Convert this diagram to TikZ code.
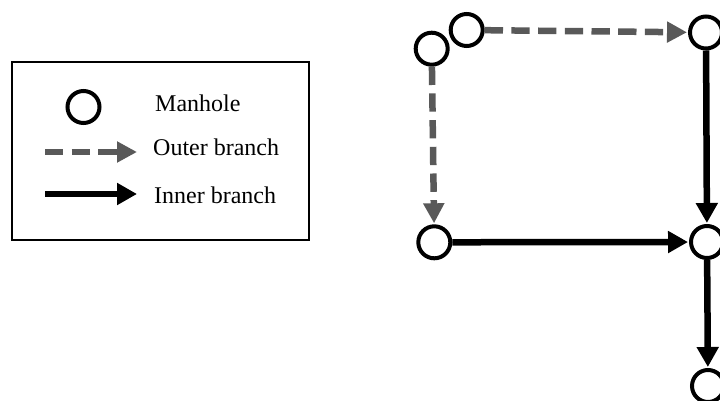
\documentclass[tikz,border=0pt]{standalone}
\usepackage{fontspec}
\setmainfont{Liberation Serif}
\usetikzlibrary{arrows.meta,positioning}
\definecolor{outergray}{HTML}{595959}

\begin{document}
\begin{tikzpicture}[x=1pt, y=-1pt,
    manhole/.style={circle, draw, line width=4pt, minimum size=32pt, inner sep=0pt, fill=white},
    outer/.style={draw=outergray, line width=6.5pt, dash pattern=on 18.3pt off 8.4pt,
                  -{Triangle[length=20pt, width=20pt]}, shorten >=1pt},
    inner/.style={draw=black, line width=6.5pt, -{Triangle[length=20pt, width=21pt]}, shorten >=1pt},
    legtext/.style={font=\fontsize{24}{28}\selectfont, anchor=base west, inner sep=0pt}
  ]
  \useasboundingbox (0,0) rectangle (720,401);

  % legend
  \node (legend) [draw, line width=1.8pt, minimum width=297pt, minimum height=178pt, inner sep=0pt] at (160.5,151) {};
  \node (keyhole) [manhole] at (83.5,107) {};
  \node (keyholetext) [legtext] at (155,112) {Manhole};
  \coordinate (outerstart) at (45,152);
  \coordinate (outerend) at (137,152);
  \node (outertext) [legtext] at (153,155) {Outer branch};
  \coordinate (innerstart) at (45,194);
  \coordinate (innerend) at (137,194);
  \node (innertext) [legtext] at (154,203) {Inner branch};
  \draw[outer, shorten >=0pt] (outerstart) -- (outerend);
  \draw[inner, shorten >=0pt] (innerstart) -- (innerend);

  % network
  \node (mhA) [manhole] at (431.7,48.7) {};
  \node (mhB) [manhole] at (466.7,30) {};
  \node (mhC) [manhole] at (706,32.5) {};
  \node (mhD) [manhole] at (434.3,242.3) {};
  \node (mhE) [manhole] at (707,242) {};
  \node (mhF) [manhole] at (708,386) {};

  \draw[outer] (mhB) -- (mhC);
  \draw[outer] (mhA) -- (mhD);
  \draw[inner] (mhC) -- (mhE);
  \draw[inner] (mhD) -- (mhE);
  \draw[inner] (mhE) -- (mhF);
\end{tikzpicture}
\end{document}
